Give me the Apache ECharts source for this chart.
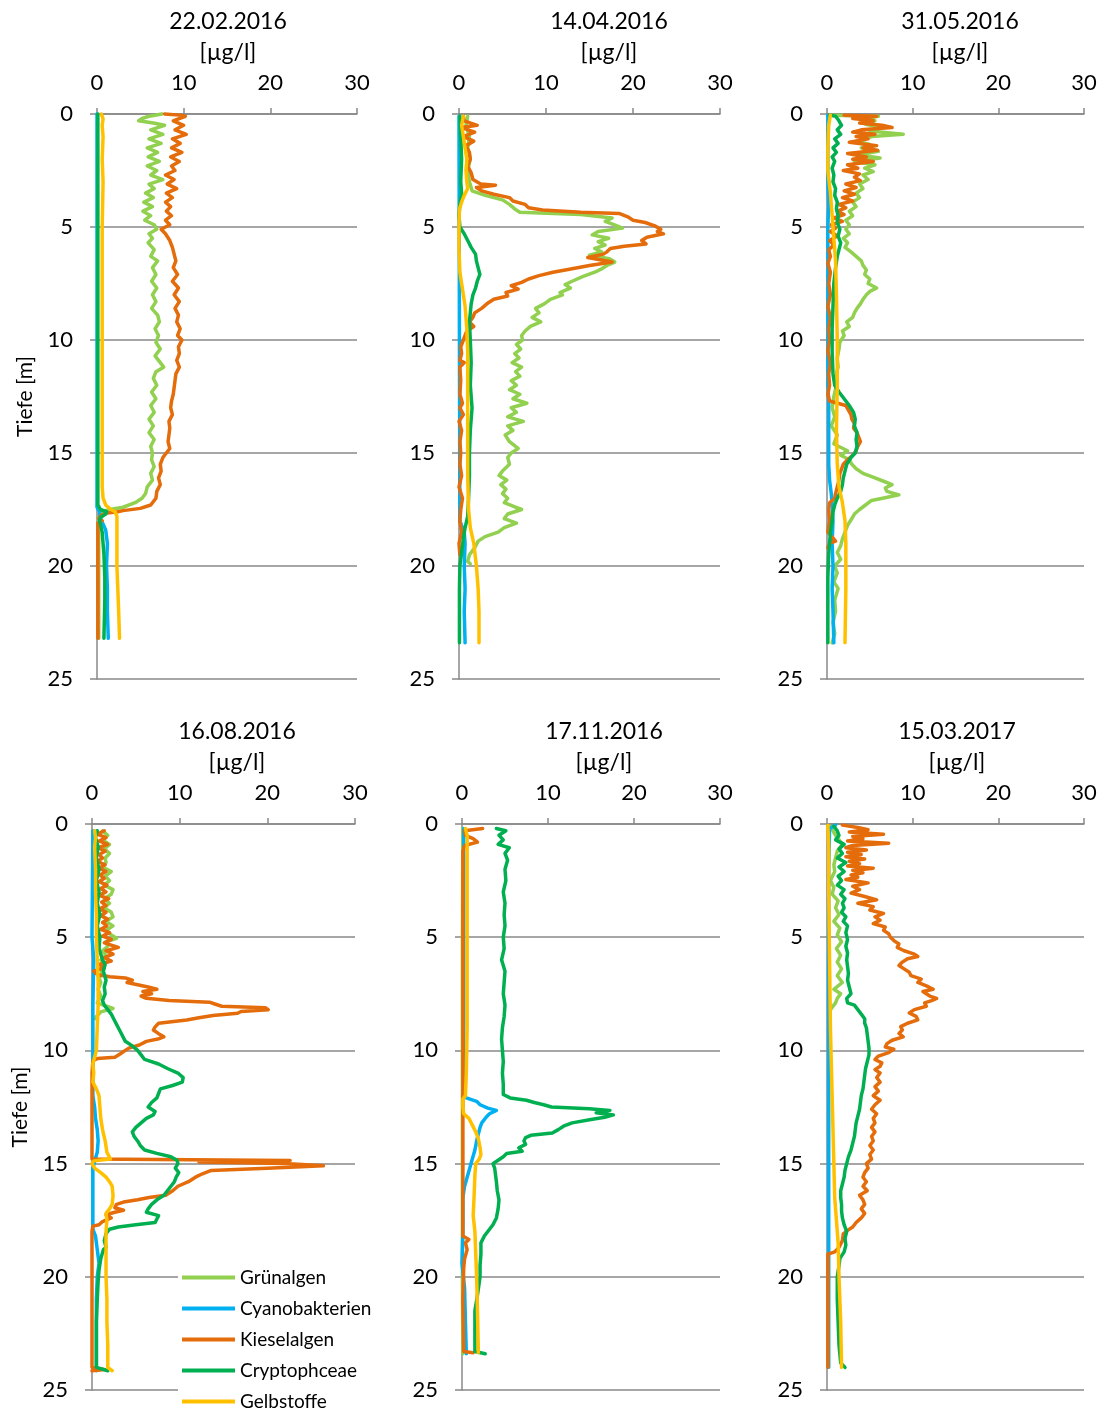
<!DOCTYPE html>
<html>
<head>
<meta charset="utf-8">
<script src="https://cdn.jsdelivr.net/npm/echarts@6/dist/echarts.min.js"></script>
<style>
html,body{margin:0;padding:0;background:#fff;}
#c{width:1105px;height:1410px;}
</style>
</head>
<body>
<div id="c"></div>
<script>
// Panels (dates) and series names
const dates = ['22.02.2016','14.04.2016','31.05.2016','16.08.2016','17.11.2016','15.03.2017'];
const seriesNames = ['Grünalgen','Cyanobakterien','Kieselalgen','Cryptophceae','Gelbstoffe'];
const xTicks = [0,10,20,30];
const yTicks = [0,5,10,15,20,25];

// Each profile: [Tiefe (m), Konzentration (µg/l)]
// ---- 22.02.2016
const p1_gruen = [[0.0,7.5],[0.1,6.0],[0.2,5.2],[0.3,4.8],[0.4,6.5],[0.5,7.8],[0.7,6.2],[0.9,7.6],[1.1,6.0],[1.3,7.4],[1.5,5.8],[1.7,7.0],[1.9,5.9],[2.1,7.2],[2.3,5.8],[2.5,6.9],[2.7,6.2],[2.9,7.6],[3.1,6.0],[3.3,6.6],[3.5,5.6],[3.7,6.5],[3.9,5.4],[4.1,6.4],[4.3,5.3],[4.5,6.2],[4.7,5.5],[4.9,6.6],[5.1,6.9],[5.3,6.0],[5.5,6.4],[5.7,5.9],[6.0,6.6],[6.3,6.2],[6.5,7.0],[6.8,6.4],[7.1,6.8],[7.4,6.3],[7.7,6.9],[8.0,6.4],[8.3,6.8],[8.6,6.3],[8.9,7.0],[9.2,7.2],[9.5,6.7],[9.8,7.1],[10.1,6.8],[10.4,7.3],[10.7,6.7],[11.0,7.3],[11.2,7.7],[11.4,6.8],[11.7,6.5],[12.0,6.9],[12.3,6.3],[12.6,6.8],[12.9,6.2],[13.2,6.6],[13.5,6.0],[13.8,6.5],[14.1,6.0],[14.4,6.6],[14.7,6.2],[15.0,6.4],[15.3,6.3],[15.6,6.6],[15.9,6.2],[16.2,6.4],[16.5,5.8],[16.8,5.6],[17.0,5.2],[17.2,4.4],[17.4,3.0],[17.5,1.5],[17.6,0.5],[17.8,0.2],[20.0,0.2],[23.2,0.2]];
const p1_cyano = [[0.0,0.0],[17.4,0.0],[17.6,0.3],[17.8,0.3],[18.4,1.0],[19.0,1.2],[20.0,1.1],[21.0,1.2],[22.0,1.2],[23.2,1.3]];
const p1_kiesel = [[0.0,7.8],[0.05,9.5],[0.1,10.2],[0.3,8.8],[0.5,10.0],[0.7,9.0],[0.9,10.3],[1.1,8.7],[1.3,9.6],[1.5,8.6],[1.7,9.8],[1.9,8.5],[2.1,9.5],[2.3,8.6],[2.5,9.0],[2.7,7.9],[2.9,8.9],[3.1,8.1],[3.3,9.2],[3.5,8.0],[3.7,8.7],[3.9,7.9],[4.1,8.5],[4.3,8.0],[4.5,8.6],[4.7,7.9],[4.9,8.4],[5.1,7.4],[5.3,7.9],[5.6,8.4],[5.9,8.7],[6.2,8.9],[6.5,9.1],[6.8,8.8],[7.1,9.3],[7.4,8.7],[7.7,9.4],[8.0,8.9],[8.3,9.5],[8.6,9.0],[8.9,9.4],[9.2,9.2],[9.5,9.6],[9.8,9.3],[10.0,9.8],[10.3,9.4],[10.6,9.5],[10.9,9.2],[11.2,9.5],[11.5,9.1],[11.8,9.0],[12.1,8.9],[12.4,8.8],[12.7,8.6],[13.0,8.5],[13.3,8.7],[13.6,8.3],[13.9,8.4],[14.2,8.3],[14.5,8.2],[14.8,8.4],[15.0,8.0],[15.2,7.6],[15.5,7.3],[15.8,7.4],[16.1,7.1],[16.4,7.3],[16.7,6.9],[17.0,6.8],[17.3,6.2],[17.45,5.0],[17.55,3.0],[17.6,2.4],[17.65,1.2],[17.75,0.5],[17.9,0.2],[18.0,0.6],[18.1,0.1],[20.0,0.1],[23.2,0.1]];
const p1_crypto = [[0.0,0.1],[5.0,0.1],[10.0,0.1],[17.3,0.1],[17.5,0.4],[17.6,1.1],[17.7,1.0],[17.85,0.4],[18.0,0.3],[18.5,0.6],[19.5,0.8],[20.5,0.9],[21.5,0.9],[23.2,0.8]];
const p1_gelb = [[0.0,0.5],[0.2,0.7],[0.5,0.6],[1.0,0.7],[2.0,0.6],[3.0,0.7],[5.0,0.6],[10.0,0.6],[15.0,0.6],[16.5,0.6],[17.0,0.7],[17.3,1.0],[17.5,1.6],[17.6,2.1],[17.8,2.3],[18.5,2.3],[20.0,2.3],[22.0,2.5],[23.2,2.6]];

// ---- 14.04.2016
const p2_gruen = [[0.1,1.0],[0.5,0.8],[1.0,1.2],[1.5,1.0],[2.0,1.3],[2.5,1.0],[3.0,1.2],[3.4,1.5],[3.6,3.0],[3.8,5.0],[4.0,5.8],[4.2,6.4],[4.35,7.0],[4.45,14.0],[4.6,17.6],[4.75,16.8],[4.9,17.8],[5.05,18.8],[5.2,16.0],[5.35,15.3],[5.5,17.2],[5.65,16.0],[5.8,16.8],[5.95,15.6],[6.1,16.4],[6.25,15.0],[6.4,17.3],[6.55,17.9],[6.7,17.0],[6.85,16.4],[7.0,15.6],[7.2,14.2],[7.4,13.0],[7.55,12.2],[7.7,12.8],[7.9,11.6],[8.0,11.9],[8.2,10.5],[8.4,9.8],[8.6,8.8],[8.8,9.2],[9.0,8.4],[9.2,9.4],[9.4,8.2],[9.6,7.6],[9.8,7.2],[10.0,7.3],[10.2,6.6],[10.4,7.1],[10.6,6.4],[10.8,6.9],[11.0,6.1],[11.2,7.2],[11.4,6.5],[11.6,7.0],[11.8,6.0],[12.0,6.6],[12.2,5.8],[12.4,7.0],[12.6,6.2],[12.8,7.8],[13.0,6.0],[13.2,6.6],[13.4,5.6],[13.6,7.4],[13.8,5.6],[14.0,6.2],[14.2,5.3],[14.5,5.8],[14.8,6.8],[15.0,6.0],[15.2,5.6],[15.5,5.8],[15.8,5.0],[16.0,4.6],[16.2,5.5],[16.4,4.8],[16.6,5.4],[16.8,5.0],[17.0,5.6],[17.2,5.2],[17.4,6.5],[17.5,7.2],[17.7,5.6],[17.9,5.2],[18.1,6.6],[18.3,5.2],[18.5,4.5],[18.7,3.0],[18.9,2.2],[19.2,1.8],[19.5,1.2],[19.8,1.0],[19.9,1.3]];
const p2_cyano = [[0.1,0.0],[10.0,0.05],[18.0,0.1],[18.5,0.6],[19.0,0.7],[20.0,0.6],[21.0,0.7],[22.0,0.6],[23.4,0.7]];
const p2_kiesel = [[0.1,0.5],[0.3,0.6],[0.5,2.1],[0.6,0.3],[0.8,1.8],[1.0,0.5],[1.2,1.7],[1.4,0.8],[1.7,1.2],[2.0,1.3],[2.3,1.0],[2.6,1.4],[2.9,1.6],[3.1,2.5],[3.15,4.2],[3.25,2.0],[3.4,2.6],[3.55,4.0],[3.7,5.8],[3.85,6.2],[4.0,7.6],[4.15,8.0],[4.25,9.6],[4.35,14.0],[4.4,18.4],[4.55,19.4],[4.7,20.0],[4.8,21.4],[4.95,22.5],[5.1,23.2],[5.2,22.8],[5.3,23.5],[5.45,21.6],[5.6,21.0],[5.75,21.5],[5.85,19.0],[5.95,17.4],[6.1,17.0],[6.2,16.6],[6.35,14.8],[6.45,16.2],[6.55,17.6],[6.7,15.0],[6.85,13.0],[7.0,10.8],[7.15,9.2],[7.3,8.0],[7.45,7.2],[7.6,6.0],[7.75,6.8],[7.9,5.4],[8.05,5.6],[8.2,4.0],[8.4,3.2],[8.6,2.6],[8.8,1.8],[9.0,1.6],[9.2,1.2],[9.4,1.7],[9.6,0.9],[9.8,0.7],[10.0,0.5],[10.3,0.2],[10.6,0.3],[10.9,0.1],[11.0,0.6],[11.2,0.1],[11.8,0.2],[12.4,0.1],[12.8,0.4],[13.0,0.1],[13.3,0.5],[13.6,0.0],[14.0,0.3],[14.5,0.1],[15.0,0.2],[15.5,0.1],[16.0,0.3],[16.5,0.0],[17.0,0.4],[17.5,0.2],[18.0,0.1],[18.5,0.3],[19.0,0.0],[19.5,0.1]];
const p2_crypto = [[0.1,0.1],[1.0,0.2],[2.0,0.3],[3.0,0.2],[3.5,0.3],[4.0,0.1],[4.5,0.0],[5.0,0.1],[5.3,0.6],[5.6,1.0],[5.9,1.4],[6.2,1.9],[6.5,2.0],[6.8,2.2],[7.1,2.4],[7.4,2.1],[7.7,1.9],[8.0,1.6],[8.4,1.4],[8.8,1.3],[9.2,1.2],[10.0,1.3],[11.0,1.4],[12.0,1.3],[13.0,1.5],[14.0,1.3],[15.0,1.2],[16.0,1.2],[17.0,1.1],[17.8,1.0],[18.3,0.7],[18.8,0.5],[19.4,0.3],[20.0,0.1],[21.0,0.05],[23.4,0.05]];
const p2_gelb = [[0.1,0.5],[0.5,0.3],[1.0,0.5],[1.5,0.7],[2.0,0.9],[2.5,0.8],[3.0,0.9],[3.3,1.0],[3.6,0.6],[3.9,0.3],[4.2,0.05],[5.0,0.0],[6.0,0.0],[7.0,0.1],[7.5,0.3],[8.0,0.5],[8.5,0.7],[9.5,0.9],[10.5,1.0],[12.0,1.0],[14.0,1.0],[16.0,1.0],[17.5,1.1],[18.3,1.3],[19.0,1.7],[20.0,2.0],[21.0,2.2],[22.0,2.3],[23.4,2.3]];

// ---- 31.05.2016
const p3_gruen = [[0.05,0.5],[0.1,6.0],[0.2,4.2],[0.3,5.6],[0.45,4.5],[0.6,6.4],[0.75,5.0],[0.9,8.9],[1.0,5.2],[1.2,3.5],[1.35,5.0],[1.5,4.0],[1.65,6.0],[1.8,3.6],[1.95,6.2],[2.1,3.2],[2.25,5.6],[2.4,4.4],[2.55,5.4],[2.7,4.2],[2.9,4.8],[3.1,3.8],[3.3,4.2],[3.5,3.4],[3.7,3.8],[3.9,3.0],[4.1,3.4],[4.3,2.6],[4.5,3.0],[4.7,2.2],[4.9,2.6],[5.1,2.2],[5.3,2.6],[5.5,1.9],[5.7,2.4],[5.9,2.1],[6.1,2.8],[6.3,3.4],[6.5,4.0],[6.7,4.2],[6.9,4.6],[7.1,4.4],[7.3,5.0],[7.5,4.8],[7.7,5.8],[7.85,5.0],[8.0,4.6],[8.2,4.2],[8.4,3.9],[8.6,3.5],[8.8,3.2],[9.0,3.0],[9.2,2.3],[9.4,2.6],[9.6,1.8],[9.8,2.0],[10.1,1.5],[10.4,1.4],[10.8,1.2],[11.2,1.3],[11.6,1.0],[12.0,1.1],[12.5,0.8],[13.0,0.6],[13.4,0.9],[13.8,0.5],[14.2,1.2],[14.6,0.8],[14.9,2.4],[15.1,1.6],[15.3,2.6],[15.5,2.9],[15.7,3.4],[15.9,4.2],[16.1,5.6],[16.25,6.6],[16.4,7.6],[16.55,6.8],[16.7,7.0],[16.85,8.4],[17.0,6.5],[17.1,5.2],[17.3,4.5],[17.5,3.8],[17.7,3.2],[17.9,2.9],[18.2,2.4],[18.5,2.1],[18.8,1.8],[19.1,1.6],[19.4,1.2],[19.7,1.6],[20.0,0.9],[20.3,1.2],[20.7,0.8],[21.0,1.3],[21.5,0.9],[22.0,1.0],[22.5,0.7],[23.0,0.9],[23.4,0.6]];
const p3_cyano = [[0.05,0.1],[3.0,0.1],[4.0,0.2],[5.0,0.1],[8.0,0.1],[12.0,0.1],[12.7,0.2],[14.0,0.2],[15.5,0.2],[16.2,0.3],[16.8,0.5],[17.3,0.6],[18.0,0.7],[19.0,0.6],[20.0,0.7],[21.0,0.6],[22.0,0.7],[23.4,0.8]];
const p3_kiesel = [[0.05,2.0],[0.1,5.8],[0.2,3.0],[0.3,5.4],[0.4,3.8],[0.5,6.4],[0.6,7.6],[0.7,4.0],[0.8,3.0],[0.9,5.6],[1.0,3.4],[1.1,4.8],[1.25,2.6],[1.4,5.8],[1.5,4.2],[1.6,5.9],[1.75,2.4],[1.9,4.6],[2.0,3.0],[2.1,5.4],[2.25,2.4],[2.4,3.6],[2.5,1.9],[2.65,3.8],[2.8,3.2],[2.95,3.9],[3.1,2.2],[3.25,3.4],[3.4,2.0],[3.55,3.2],[3.7,1.8],[3.85,3.0],[4.0,1.4],[4.15,2.2],[4.3,1.2],[4.45,2.0],[4.6,0.8],[4.75,1.8],[4.9,0.5],[5.05,1.0],[5.2,0.4],[5.4,1.2],[5.6,0.3],[5.8,0.8],[6.0,0.2],[6.3,0.4],[6.6,0.1],[7.0,0.4],[7.5,0.2],[8.0,0.4],[8.5,0.1],[9.0,0.4],[9.5,0.2],[10.0,0.3],[10.5,0.1],[11.0,0.4],[11.5,0.2],[12.0,0.3],[12.4,0.1],[12.7,0.3],[12.9,2.2],[13.1,2.5],[13.3,2.8],[13.5,2.9],[13.7,3.2],[13.9,3.1],[14.1,3.5],[14.3,3.7],[14.5,3.9],[14.7,3.6],[14.9,3.4],[15.1,3.0],[15.3,2.4],[15.5,1.9],[15.7,1.7],[15.9,1.5],[16.2,1.4],[16.5,1.2],[16.8,1.0],[17.0,0.9],[17.2,0.3],[17.5,0.2],[18.0,0.3],[18.5,0.1],[18.9,1.0],[19.0,0.3],[19.2,0.1]];
const p3_crypto = [[0.05,0.3],[0.1,1.0],[0.3,1.4],[0.5,1.7],[0.7,1.2],[0.9,1.6],[1.1,0.9],[1.3,1.3],[1.5,0.7],[1.7,1.1],[1.9,0.6],[2.1,0.9],[2.4,0.6],[2.7,0.8],[3.0,0.7],[3.3,1.0],[3.6,0.9],[3.9,1.2],[4.2,1.1],[4.5,1.3],[4.8,1.2],[5.1,1.5],[5.4,1.3],[5.7,1.6],[6.0,1.4],[6.3,1.2],[6.8,1.0],[7.5,0.8],[8.5,0.7],[9.5,0.6],[10.5,0.6],[11.5,0.7],[12.0,0.9],[12.3,1.4],[12.6,2.0],[12.9,2.6],[13.2,3.1],[13.5,3.3],[13.8,3.2],[14.1,3.5],[14.4,3.4],[14.7,3.5],[15.0,3.3],[15.2,2.8],[15.5,2.3],[15.8,2.1],[16.1,1.9],[16.4,1.8],[16.7,1.6],[17.0,1.2],[17.3,0.9],[17.6,0.7],[18.0,0.6],[18.5,0.4],[19.0,0.3],[19.5,0.2],[20.5,0.1],[22.0,0.1],[23.4,0.1]];
const p3_gelb = [[0.05,0.4],[0.5,0.2],[1.5,0.1],[2.5,0.1],[3.5,0.4],[4.5,0.6],[5.5,0.8],[6.5,1.0],[8.0,1.1],[10.0,1.2],[12.0,1.2],[14.0,1.1],[15.5,1.2],[16.5,1.4],[17.2,1.8],[18.0,2.1],[19.0,2.2],[21.0,2.2],[23.4,2.1]];

// ---- 16.08.2016
const p4_gruen = [[0.3,1.2],[0.5,1.8],[0.7,1.2],[0.9,2.0],[1.1,1.4],[1.3,2.0],[1.5,1.5],[1.7,1.6],[1.9,1.2],[2.1,2.2],[2.3,1.5],[2.5,2.0],[2.7,1.4],[2.9,2.4],[3.1,2.2],[3.3,1.4],[3.5,2.0],[3.7,1.4],[3.9,2.2],[4.1,2.4],[4.3,1.6],[4.5,2.4],[4.7,1.6],[4.9,2.2],[5.05,2.8],[5.2,1.6],[5.4,1.8],[5.6,1.2],[5.8,1.6],[6.0,1.0],[6.2,1.4],[6.4,0.9],[6.6,1.2],[6.8,0.8],[7.0,1.0],[7.3,0.7],[7.6,1.0],[7.9,0.6],[8.15,2.4],[8.3,1.0],[8.5,0.5],[8.6,0.4]];
const p4_cyano = [[0.3,0.1],[5.0,0.0],[6.0,0.2],[8.0,0.1],[10.0,0.1],[12.0,0.1],[12.5,0.3],[13.0,0.4],[13.5,0.6],[14.0,0.7],[14.5,0.6],[14.9,0.3],[15.2,0.1],[17.9,0.1],[18.2,0.4],[18.8,0.6],[19.4,0.8],[20.0,0.6],[21.0,0.5],[22.0,0.5],[23.0,0.5],[24.15,0.5]];
const p4_kiesel = [[0.3,1.4],[0.45,0.6],[0.6,1.6],[0.75,0.8],[0.9,1.8],[1.05,0.7],[1.2,1.5],[1.35,0.8],[1.5,1.2],[1.65,0.6],[1.8,1.5],[1.95,0.8],[2.1,1.6],[2.25,0.9],[2.4,1.4],[2.55,0.8],[2.7,1.7],[2.85,1.0],[3.0,1.6],[3.15,0.8],[3.3,1.9],[3.45,1.1],[3.6,1.6],[3.75,0.9],[3.9,1.6],[4.05,1.0],[4.2,1.8],[4.35,1.2],[4.5,1.7],[4.65,1.0],[4.8,2.0],[4.95,1.2],[5.1,2.2],[5.25,1.4],[5.45,3.0],[5.6,1.6],[5.75,2.4],[5.9,1.4],[6.05,2.2],[6.2,0.8],[6.35,1.4],[6.5,0.2],[6.65,0.6],[6.75,2.0],[6.8,3.8],[6.9,4.6],[7.0,4.0],[7.1,5.2],[7.2,6.4],[7.3,7.4],[7.4,5.8],[7.5,6.8],[7.6,5.6],[7.7,6.2],[7.8,8.8],[7.87,13.4],[7.95,14.0],[8.05,14.8],[8.12,19.8],[8.2,20.1],[8.28,17.0],[8.36,16.6],[8.46,13.8],[8.56,12.2],[8.66,10.8],[8.8,7.6],[8.96,7.2],[9.1,7.0],[9.26,7.6],[9.4,8.2],[9.5,7.5],[9.6,6.2],[9.76,5.4],[9.9,4.2],[10.0,3.8],[10.16,3.2],[10.3,2.6],[10.36,0.6],[10.45,0.1],[11.0,0.0],[12.0,0.0],[13.0,0.0],[14.0,0.0],[14.8,0.0],[14.86,22.6],[14.93,12.2],[15.0,22.0],[15.1,26.4],[15.2,20.0],[15.3,13.6],[15.45,12.6],[15.6,11.8],[15.8,11.0],[16.0,9.8],[16.2,9.2],[16.4,8.4],[16.5,6.5],[16.6,5.2],[16.7,3.6],[16.8,2.8],[16.95,2.6],[17.06,3.6],[17.15,2.6],[17.26,1.6],[17.4,2.2],[17.56,1.2],[17.7,0.8],[17.76,0.1],[18.0,0.0],[20.0,0.0],[22.0,0.0],[24.0,0.0],[24.1,1.5],[24.15,0.0]];
const p4_crypto = [[0.3,0.6],[0.6,0.4],[1.0,0.7],[1.5,0.5],[2.0,0.8],[2.5,0.5],[3.0,0.8],[3.5,0.6],[4.0,0.9],[4.5,0.6],[5.0,0.9],[5.5,0.8],[6.0,1.2],[6.2,1.5],[6.5,1.3],[6.9,1.6],[7.2,1.4],[7.5,1.5],[7.8,1.2],[8.0,1.4],[8.2,1.8],[8.4,2.2],[8.7,2.6],[9.0,3.0],[9.3,3.4],[9.6,3.8],[9.8,4.6],[10.0,5.2],[10.2,5.6],[10.4,6.0],[10.6,7.6],[10.8,8.6],[11.0,9.8],[11.2,10.4],[11.4,10.3],[11.55,9.2],[11.7,7.8],[11.9,7.6],[12.1,7.4],[12.3,6.8],[12.5,6.4],[12.7,7.2],[12.85,7.0],[13.0,6.2],[13.2,5.6],[13.4,5.0],[13.6,4.6],[13.8,4.8],[14.0,5.2],[14.2,5.5],[14.4,6.0],[14.55,7.4],[14.7,9.0],[14.85,9.7],[15.0,9.8],[15.2,9.5],[15.4,9.9],[15.6,9.6],[15.8,9.4],[16.0,9.0],[16.2,8.6],[16.4,8.2],[16.6,7.4],[16.8,6.8],[17.0,6.4],[17.15,6.2],[17.3,7.6],[17.45,7.4],[17.6,7.2],[17.7,5.0],[17.8,3.0],[17.9,2.0],[18.1,1.6],[18.4,1.4],[18.7,1.6],[18.8,1.3],[19.2,1.0],[19.7,0.8],[20.2,0.7],[21.0,0.6],[22.0,0.5],[23.0,0.5],[24.0,0.5],[24.15,1.8]];
const p4_gelb = [[0.3,0.3],[0.6,0.4],[1.0,0.3],[2.0,0.4],[3.0,0.4],[4.0,0.5],[5.0,0.5],[6.0,0.6],[7.0,0.7],[8.0,0.7],[9.0,0.6],[10.0,0.5],[10.3,0.3],[10.6,0.1],[11.0,0.2],[11.4,0.1],[11.7,0.5],[12.0,0.8],[12.5,0.9],[13.0,1.0],[13.5,1.2],[14.0,1.5],[14.5,1.7],[14.8,2.1],[14.88,0.2],[15.0,0.0],[15.2,0.3],[15.4,1.0],[15.6,1.6],[15.8,2.0],[16.0,2.3],[16.4,2.4],[16.8,2.3],[17.0,2.0],[17.2,1.6],[17.5,1.7],[18.0,1.6],[19.0,1.6],[20.0,1.6],[21.0,1.7],[22.0,1.7],[23.0,1.8],[24.0,1.8],[24.15,2.3]];

// ---- 17.11.2016
const p5_gruen = [[0.2,0.1],[5.0,0.05],[10.0,0.05],[15.0,0.05],[20.0,0.05],[23.4,0.1]];
const p5_cyano = [[0.2,0.2],[5.0,0.2],[10.0,0.2],[12.0,0.2],[12.1,0.5],[12.25,1.7],[12.4,2.1],[12.55,3.0],[12.65,4.0],[12.8,3.2],[12.95,2.8],[13.2,2.3],[13.4,2.1],[13.7,1.9],[14.0,1.7],[14.4,1.5],[14.8,1.2],[15.2,0.9],[15.6,0.6],[16.0,0.3],[16.5,0.1],[18.0,0.1],[19.4,0.0],[20.5,0.3],[22.0,0.4],[23.4,0.5]];
const p5_kiesel = [[0.2,2.4],[0.3,0.3],[0.5,0.4],[0.65,1.3],[0.8,1.8],[0.95,0.3],[1.2,0.1],[5.0,0.1],[10.0,0.1],[15.0,0.1],[18.2,0.1],[18.35,0.8],[18.5,0.4],[18.8,0.6],[19.2,0.3],[19.6,0.2],[21.0,0.1],[23.3,0.2],[23.35,1.3]];
const p5_crypto = [[0.2,4.0],[0.3,5.1],[0.5,4.3],[0.7,4.8],[0.9,4.2],[1.05,5.5],[1.3,5.0],[1.6,5.3],[2.0,5.0],[2.5,5.1],[3.0,4.8],[3.5,5.0],[4.0,4.9],[4.5,5.0],[5.0,4.8],[5.5,4.9],[6.0,4.6],[6.5,5.0],[7.0,4.9],[7.5,4.8],[8.0,5.0],[8.5,4.9],[9.0,4.7],[9.5,4.6],[10.0,4.7],[10.5,4.8],[11.0,4.7],[11.5,4.8],[11.95,4.8],[12.1,5.6],[12.2,7.5],[12.3,8.4],[12.4,9.5],[12.5,10.4],[12.58,14.8],[12.65,17.2],[12.75,15.6],[12.85,17.6],[12.95,16.6],[13.05,15.0],[13.2,12.8],[13.35,11.8],[13.5,11.2],[13.65,10.5],[13.75,8.0],[13.85,7.4],[14.0,7.2],[14.15,7.4],[14.3,6.6],[14.45,7.0],[14.55,5.2],[14.7,4.8],[14.85,4.2],[15.0,3.6],[15.2,3.8],[15.5,3.9],[15.8,4.0],[16.2,4.1],[16.6,4.3],[17.0,4.2],[17.4,4.0],[17.7,3.6],[18.0,3.0],[18.2,2.6],[18.5,2.2],[19.0,2.2],[19.5,2.1],[20.0,2.1],[20.8,1.8],[21.5,1.5],[22.5,1.5],[23.3,1.5],[23.4,2.7]];
const p5_gelb = [[0.2,0.4],[0.5,0.6],[1.0,0.6],[3.0,0.6],[5.0,0.6],[7.0,0.6],[9.0,0.6],[11.0,0.5],[12.0,0.4],[12.15,0.1],[12.5,0.1],[12.8,0.2],[13.0,0.8],[13.3,1.2],[13.6,1.6],[13.9,1.9],[14.3,2.1],[14.6,2.2],[14.8,2.0],[15.0,1.6],[15.5,1.5],[16.5,1.4],[17.3,1.3],[18.0,1.5],[19.0,1.6],[20.0,1.7],[21.5,1.8],[23.35,1.9]];

// ---- 15.03.2017
const p6_gruen = [[0.1,0.4],[0.5,1.0],[0.9,1.8],[1.2,1.2],[1.5,1.0],[1.8,0.8],[2.1,0.9],[2.5,0.4],[2.8,0.8],[3.1,0.6],[3.4,1.3],[3.7,1.0],[4.0,1.4],[4.3,0.8],[4.6,1.5],[4.9,1.2],[5.2,1.7],[5.5,1.1],[5.8,1.6],[6.1,1.2],[6.4,1.7],[6.7,1.2],[7.0,1.8],[7.3,0.8],[7.5,1.6],[7.7,1.2],[7.9,1.0],[8.1,0.6],[8.2,0.4]];
const p6_cyano = [[0.05,1.0],[0.2,0.3],[2.0,0.2],[5.0,0.2],[10.0,0.2],[15.0,0.2],[19.0,0.2],[20.0,0.2],[24.0,0.2]];
const p6_kiesel = [[0.05,1.8],[0.15,3.6],[0.25,4.8],[0.35,2.6],[0.45,6.6],[0.55,3.0],[0.65,4.2],[0.75,2.4],[0.85,7.2],[0.95,3.0],[1.05,2.2],[1.15,4.6],[1.25,2.4],[1.35,4.0],[1.45,2.2],[1.55,4.4],[1.65,2.6],[1.75,3.8],[1.85,2.4],[1.95,5.4],[2.05,3.0],[2.15,4.2],[2.25,2.8],[2.35,3.6],[2.45,2.2],[2.6,4.8],[2.75,3.0],[2.9,3.8],[3.05,2.8],[3.2,4.4],[3.35,5.8],[3.5,3.6],[3.65,5.4],[3.8,5.0],[3.95,6.6],[4.1,5.6],[4.25,6.2],[4.4,5.4],[4.55,6.8],[4.7,6.6],[4.85,7.2],[5.0,7.4],[5.15,7.8],[5.3,8.4],[5.45,8.2],[5.6,9.0],[5.75,10.2],[5.85,10.6],[5.95,9.4],[6.1,8.8],[6.25,8.4],[6.4,9.0],[6.55,9.6],[6.7,9.8],[6.85,11.0],[7.0,10.6],[7.15,11.6],[7.3,12.4],[7.4,11.2],[7.5,11.6],[7.6,12.0],[7.7,12.8],[7.8,12.2],[7.9,11.4],[8.05,11.6],[8.2,10.2],[8.35,9.6],[8.5,10.4],[8.65,10.6],[8.8,9.4],[8.95,8.6],[9.1,8.8],[9.25,8.4],[9.4,8.9],[9.55,7.6],[9.7,7.0],[9.85,6.8],[9.95,7.8],[10.1,7.2],[10.25,6.0],[10.4,5.6],[10.55,6.4],[10.7,6.2],[10.85,5.6],[11.0,6.2],[11.2,5.8],[11.4,6.2],[11.6,5.6],[11.8,6.0],[12.0,5.4],[12.2,6.2],[12.4,5.6],[12.6,5.2],[12.8,5.8],[13.0,5.4],[13.2,5.6],[13.4,5.2],[13.6,5.6],[13.8,5.2],[14.0,5.4],[14.2,5.0],[14.4,5.4],[14.6,5.0],[14.8,5.2],[15.0,4.6],[15.2,4.8],[15.4,4.4],[15.6,4.2],[15.8,4.6],[16.0,4.2],[16.2,4.7],[16.4,3.8],[16.6,4.2],[16.8,4.4],[17.0,4.0],[17.2,4.4],[17.4,4.0],[17.6,3.4],[17.8,3.0],[17.95,2.4],[18.1,1.9],[18.4,1.8],[18.7,1.4],[18.9,0.9],[19.0,0.1],[20.0,0.1],[22.0,0.1],[24.0,0.1]];
const p6_crypto = [[0.1,0.8],[0.3,1.2],[0.5,1.4],[0.7,1.0],[0.9,2.0],[1.1,1.4],[1.3,1.8],[1.5,1.2],[1.7,2.2],[1.9,1.4],[2.1,2.0],[2.3,1.3],[2.5,1.7],[2.7,1.2],[2.9,2.0],[3.1,1.6],[3.3,2.1],[3.5,1.8],[3.7,2.0],[3.9,1.7],[4.1,2.2],[4.3,1.9],[4.5,2.4],[4.8,2.2],[5.1,2.4],[5.4,2.2],[5.7,2.4],[6.0,2.3],[6.3,2.4],[6.6,2.5],[6.9,2.4],[7.2,2.6],[7.5,2.8],[7.7,2.3],[7.9,2.4],[8.0,3.2],[8.2,3.6],[8.4,4.0],[8.6,4.4],[8.8,4.4],[9.0,4.6],[9.3,4.7],[9.6,4.8],[9.9,4.9],[10.2,4.9],[10.5,4.7],[10.8,4.5],[11.1,4.4],[11.4,4.3],[11.7,4.2],[12.0,4.0],[12.3,3.9],[12.6,3.8],[12.9,3.6],[13.2,3.4],[13.5,3.3],[13.8,3.2],[14.1,3.0],[14.4,2.8],[14.7,2.5],[15.0,2.3],[15.3,2.1],[15.6,2.0],[15.9,1.8],[16.2,1.6],[16.5,1.6],[16.8,1.7],[17.1,1.7],[17.4,1.8],[17.7,2.0],[18.0,2.3],[18.3,2.1],[18.6,2.2],[18.9,2.0],[19.2,1.5],[19.5,1.4],[20.0,1.2],[21.0,1.2],[22.0,1.3],[23.0,1.4],[23.8,1.6],[24.0,2.1]];
const p6_gelb = [[0.05,0.1],[1.0,0.2],[3.0,0.2],[6.0,0.3],[9.0,0.4],[12.0,0.6],[15.0,0.8],[16.5,0.9],[17.5,1.1],[18.5,1.3],[20.0,1.4],[22.0,1.6],[24.0,1.7]];

const panels = [
  [p1_gruen,p1_cyano,p1_kiesel,p1_crypto,p1_gelb],
  [p2_gruen,p2_cyano,p2_kiesel,p2_crypto,p2_gelb],
  [p3_gruen,p3_cyano,p3_kiesel,p3_crypto,p3_gelb],
  [p4_gruen,p4_cyano,p4_kiesel,p4_crypto,p4_gelb],
  [p5_gruen,p5_cyano,p5_kiesel,p5_crypto,p5_gelb],
  [p6_gruen,p6_cyano,p6_kiesel,p6_crypto,p6_gelb]
];

const colors = ['#92D050','#00B0F0','#E46C0A','#00B050','#FFC000'];
const FONT = 'Lato, "Noto Sans", sans-serif';
const GREY = '#888888';

// layout (pixels)
const gridBoxes = [
  {left:97, top:114, width:260, height:565},
  {left:459, top:114, width:261, height:565},
  {left:827, top:114, width:257, height:565},
  {left:92, top:824, width:263, height:566},
  {left:462, top:824, width:258, height:566},
  {left:827, top:824, width:257, height:566}
];
const titlePos = [[228,22],[609,22],[960,22],[237,732],[604,732],[957,732]];

const grids = [], xAxes = [], yAxes = [], series = [], graphics = [];
gridBoxes.forEach((g,i)=>{
  grids.push({left:g.left, top:g.top, width:g.width, height:g.height, containLabel:false});
  xAxes.push({
    type:'value', gridIndex:i, position:'top', min:xTicks[0], max:xTicks[xTicks.length-1], interval:10,
    axisLine:{show:true, onZero:false, lineStyle:{color:GREY, width:1.5}},
    axisTick:{show:true, inside:false, length:6, lineStyle:{color:GREY, width:1.5}},
    axisLabel:{show:true, color:'#000', fontSize:22, fontFamily:FONT, margin:20},
    splitLine:{show:false}
  });
  yAxes.push({
    type:'value', gridIndex:i, inverse:true, min:yTicks[0], max:yTicks[yTicks.length-1], interval:5,
    name:(i===0||i===3)?'Tiefe [m]':'', nameLocation:'middle', nameGap:61, nameRotate:90,
    nameTextStyle:{color:'#000', fontSize:21, fontFamily:FONT},
    axisLine:{show:true, onZero:false, lineStyle:{color:GREY, width:1.5}},
    axisTick:{show:true, inside:false, length:7, lineStyle:{color:GREY, width:1.5}},
    axisLabel:{show:true, color:'#000', fontSize:22, fontFamily:FONT, margin:24},
    splitLine:{show:true, lineStyle:{color:GREY, width:1.5}}
  });
  panels[i].forEach((arr,k)=>{
    series.push({
      type:'line', name:seriesNames[k], xAxisIndex:i, yAxisIndex:i,
      data: arr.map(p=>[p[1], p[0]]),
      showSymbol:false, symbol:'none', animation:false, silent:true, clip:false,
      lineStyle:{color:colors[k], width:3.5, join:'round', cap:'round'},
      itemStyle:{color:colors[k]}
    });
  });
  graphics.push({type:'text', x:titlePos[i][0], y:titlePos[i][1],
    style:{text:dates[i], fill:'#000', font:'23px '+FONT, textAlign:'center', textVerticalAlign:'middle'}});
  graphics.push({type:'text', x:titlePos[i][0], y:titlePos[i][1]+31,
    style:{text:'[µg/l]', fill:'#000', font:'23px '+FONT, textAlign:'center', textVerticalAlign:'middle'}});
});

const chart = echarts.init(document.getElementById('c'), null, {renderer:'canvas'});
chart.setOption({
  backgroundColor:'#fff',
  animation:false,
  grid:grids, xAxis:xAxes, yAxis:yAxes, series:series,
  graphic:graphics,
  legend:{
    show:true, orient:'vertical', left:178, top:1262, height:300, width:210,
    data:seriesNames, icon:'rect', itemWidth:53, itemHeight:4, itemGap:12,
    backgroundColor:'#fff', padding:[6,4,4,4],
    textStyle:{color:'#000', fontSize:19, lineHeight:18, fontFamily:FONT},
    selectedMode:false
  }
});
</script>
</body>
</html>
